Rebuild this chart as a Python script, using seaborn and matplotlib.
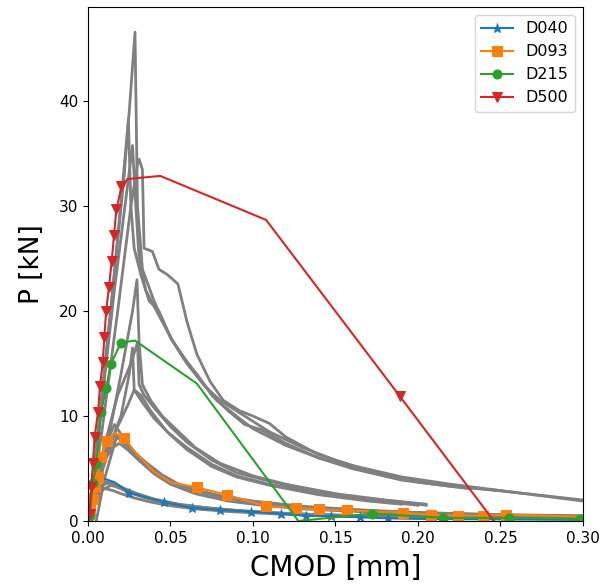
import pandas as pd
import matplotlib
matplotlib.use("Agg")
import matplotlib.pyplot as plt
import seaborn as sns

# Model curves (CMOD [mm], P [kN])
d040_x = [0, 0.001, 0.0026, 0.005, 0.0104, 0.016, 0.025, 0.046, 0.063, 0.080, 0.099, 0.117, 0.132, 0.1475, 0.165, 0.182, 0.20, 0.25, 0.30]
d040_p = [0, 1.0, 2.5, 3.6, 4.0, 3.7, 2.7, 1.8, 1.25, 1.05, 0.9, 0.7, 0.5, 0.45, 0.35, 0.25, 0.2, 0.15, 0.1]
d040_marks = [1, 2, 6, 7, 8, 9, 10, 11, 12, 13, 14, 15]

d093_x = [0, 0.0015, 0.003, 0.0045, 0.006, 0.0077, 0.0117, 0.016, 0.022, 0.030, 0.040, 0.050, 0.066, 0.084, 0.108,
          0.126, 0.140, 0.157, 0.174, 0.191, 0.208, 0.224, 0.2395, 0.2535, 0.30]
d093_p = [0, 1.0, 2.1, 3.2, 4.2, 6.1, 7.6, 8.4, 7.9, 6.3, 4.7, 3.7, 3.2, 2.5, 1.4,
          1.25, 1.1, 1.0, 0.9, 0.8, 0.6, 0.5, 0.5, 0.6, 0.4]
d093_marks = [1, 2, 3, 4, 5, 6, 8, 12, 13, 14, 15, 16, 17, 19, 20, 21, 22, 23]

d215_x = [0, 0.001, 0.003, 0.005, 0.008, 0.011, 0.014, 0.020, 0.0285, 0.066, 0.1275, 0.172, 0.215, 0.255, 0.298]
d215_p = [0, 0.5, 3.6, 5.4, 10.4, 12.7, 15.0, 17.0, 17.2, 13.1, 0.0, 0.7, 0.3, 0.3, 0.2]
d215_marks = [1, 2, 3, 4, 5, 6, 7, 11, 12, 13, 14]

d500_x = [0, 0.001, 0.002, 0.003, 0.004, 0.0061, 0.0073, 0.009, 0.0099, 0.011, 0.0127, 0.0144, 0.0158, 0.0172,
          0.0203, 0.024, 0.0438, 0.108, 0.189, 0.246]
d500_p = [0, 0.7, 3.2, 5.5, 8.0, 10.4, 12.9, 15.2, 17.5, 20.0, 22.3, 24.8, 27.3, 29.7,
          31.9, 32.6, 32.9, 28.7, 11.9, 0.0]
d500_marks = [1, 2, 3, 4, 5, 6, 7, 8, 9, 10, 11, 12, 13, 14, 18]

# Experimental curves (gray)
tests = {
    "D500_1": ([0, 0.005, 0.015, 0.025, 0.0285, 0.030, 0.033, 0.040, 0.050, 0.060, 0.070, 0.080, 0.090, 0.100, 0.110, 0.130, 0.150, 0.170, 0.200, 0.230, 0.260, 0.300],
               [0, 6, 22, 39, 46.6, 30, 24, 21, 17.5, 15, 13, 11.5, 10.5, 9.5, 8.5, 7, 5.8, 4.8, 3.8, 3.2, 2.7, 2.0]),
    "D500_2": ([0, 0.005, 0.015, 0.022, 0.0245, 0.026, 0.028, 0.032, 0.037, 0.043, 0.050, 0.058, 0.066, 0.075, 0.085, 0.095, 0.105, 0.120, 0.140, 0.160, 0.190, 0.220, 0.250],
               [0, 7, 22, 33, 38.3, 30, 26, 23.5, 21, 20, 17.5, 15.5, 14, 12, 10.5, 9.2, 8.7, 7.4, 6, 5, 3.9, 3.3, 2.9]),
    "D500_3": ([0, 0.006, 0.016, 0.024, 0.027, 0.029, 0.031, 0.035, 0.040, 0.045, 0.052, 0.060, 0.068, 0.078, 0.090, 0.100, 0.120, 0.140, 0.170, 0.200, 0.230],
               [0, 8, 22, 32, 35.8, 30, 25, 22, 20.5, 19, 17, 15.2, 13.5, 11.5, 10, 8.8, 7.2, 6, 4.7, 3.7, 3.1]),
    "D500_4": ([0, 0.008, 0.018, 0.026, 0.030, 0.031, 0.033, 0.034, 0.039, 0.043, 0.048, 0.0545, 0.060, 0.066, 0.074, 0.082, 0.092, 0.100, 0.110, 0.120, 0.140, 0.160, 0.190, 0.220, 0.250, 0.300],
               [0, 8, 20, 30, 34, 34.5, 33.5, 26, 25.7, 24, 23.5, 22.6, 19, 15.9, 13.3, 11.5, 10.5, 10, 9.3, 8, 6.3, 5.3, 4.2, 3.5, 2.9, 1.9]),
    "D215_1": ([0, 0.010, 0.020, 0.027, 0.0297, 0.031, 0.033, 0.038, 0.045, 0.055, 0.065, 0.080, 0.100, 0.120, 0.150, 0.180, 0.205],
               [0, 6, 14, 20, 23, 17, 13, 11.5, 10, 8.5, 7, 5.5, 4.3, 3.5, 2.6, 2.0, 1.6]),
    "D215_2": ([0, 0.008, 0.018, 0.026, 0.030, 0.031, 0.034, 0.040, 0.050, 0.060, 0.075, 0.090, 0.110, 0.130, 0.160, 0.190, 0.205],
               [0, 6, 12, 15, 17, 13, 12, 10.8, 9, 7.5, 5.8, 4.6, 3.8, 3.1, 2.3, 1.8, 1.5]),
    "D215_3": ([0, 0.010, 0.020, 0.025, 0.027, 0.028, 0.032, 0.038, 0.048, 0.060, 0.075, 0.090, 0.110, 0.140, 0.170, 0.200],
               [0, 6, 10, 14, 16.5, 12.5, 12, 10.5, 8.5, 7, 5.4, 4.3, 3.5, 2.7, 2.0, 1.5]),
    "D215_4": ([0, 0.008, 0.018, 0.024, 0.028, 0.033, 0.040, 0.050, 0.060, 0.075, 0.090, 0.110, 0.140, 0.170, 0.190],
               [0, 5, 9, 11, 12.5, 11.3, 9.8, 8.2, 6.8, 5.2, 4.2, 3.4, 2.5, 1.9, 1.6]),
    "D093_1": ([0, 0.004, 0.010, 0.016, 0.020, 0.025, 0.030, 0.040, 0.050, 0.060, 0.080, 0.100, 0.130, 0.160, 0.200, 0.250, 0.300],
               [0, 3, 7, 9.2, 8.3, 7.2, 6.2, 4.8, 3.8, 3.2, 2.4, 1.9, 1.4, 1.1, 0.8, 0.6, 0.5]),
    "D093_2": ([0, 0.005, 0.012, 0.018, 0.022, 0.028, 0.035, 0.045, 0.055, 0.070, 0.090, 0.110, 0.140, 0.180, 0.220, 0.260, 0.300],
               [0, 2.8, 6.5, 8.0, 7.5, 6.6, 5.6, 4.4, 3.5, 2.7, 2.1, 1.6, 1.2, 0.9, 0.7, 0.55, 0.45]),
    "D093_3": ([0, 0.004, 0.010, 0.015, 0.019, 0.024, 0.030, 0.040, 0.050, 0.065, 0.085, 0.105, 0.130, 0.170, 0.210, 0.250, 0.280],
               [0, 2.5, 5.8, 7.0, 7.4, 6.8, 5.9, 4.5, 3.5, 2.6, 1.9, 1.5, 1.15, 0.85, 0.65, 0.5, 0.4]),
    "D093_4": ([0.005, 0.010, 0.0176, 0.020, 0.025, 0.032, 0.040, 0.050, 0.062, 0.080, 0.100, 0.125, 0.150, 0.190, 0.230, 0.270],
               [0, 4, 8.2, 7.6, 7.0, 5.8, 4.7, 3.8, 3.0, 2.3, 1.8, 1.4, 1.1, 0.8, 0.6, 0.45]),
    "D040_1": ([0, 0.003, 0.008, 0.012, 0.016, 0.022, 0.030, 0.040, 0.055, 0.070, 0.090, 0.110, 0.140, 0.180, 0.220, 0.270, 0.300],
               [0, 1.8, 3.3, 3.8, 3.6, 3.1, 2.6, 2.1, 1.6, 1.3, 1.0, 0.8, 0.6, 0.45, 0.35, 0.3, 0.25]),
    "D040_2": ([0, 0.004, 0.009, 0.014, 0.018, 0.025, 0.035, 0.045, 0.060, 0.080, 0.100, 0.130, 0.160, 0.200, 0.250, 0.300],
               [0, 1.6, 3.0, 3.4, 3.2, 2.7, 2.2, 1.8, 1.4, 1.1, 0.85, 0.65, 0.5, 0.4, 0.3, 0.25]),
    "D040_3": ([0, 0.003, 0.007, 0.010, 0.015, 0.020, 0.028, 0.038, 0.050, 0.065, 0.085, 0.110, 0.140, 0.180, 0.220, 0.260],
               [0, 1.5, 2.7, 3.1, 2.9, 2.6, 2.2, 1.8, 1.45, 1.15, 0.9, 0.7, 0.5, 0.4, 0.3, 0.25]),
    "D040_4": ([0, 0.003, 0.008, 0.012, 0.017, 0.024, 0.032, 0.042, 0.058, 0.075, 0.095, 0.120, 0.150, 0.190, 0.250],
               [0, 1.9, 3.4, 3.6, 3.4, 2.9, 2.4, 1.9, 1.5, 1.2, 0.95, 0.7, 0.55, 0.4, 0.3]),
}

fig, ax = plt.subplots(figsize=(6.11, 5.88), dpi=100)
fig.subplots_adjust(left=0.144, right=0.954, bottom=0.114, top=0.988)

for name, (tx, tp) in tests.items():
    df = pd.DataFrame({"CMOD": tx, "P": tp})
    sns.lineplot(data=df, x="CMOD", y="P", ax=ax, color="gray", lw=2,
                 sort=False, estimator=None)

models = [
    ("D040", d040_x, d040_p, d040_marks, "*", "tab:blue"),
    ("D093", d093_x, d093_p, d093_marks, "s", "tab:orange"),
    ("D215", d215_x, d215_p, d215_marks, "o", "tab:green"),
    ("D500", d500_x, d500_p, d500_marks, "v", "tab:red"),
]
for label, mx, mp, marks, mk, col in models:
    df = pd.DataFrame({"CMOD": mx, "P": mp})
    sns.lineplot(data=df, x="CMOD", y="P", ax=ax, color=col, lw=1.5,
                 marker=mk, markersize=6.5, markevery=marks, markeredgecolor=col,
                 sort=False, estimator=None, label=label)

ax.legend(loc="upper right", fontsize=11.5)
ax.set_xlim(0, 0.30)
ax.set_ylim(0, 49)
ax.set_xticks([0, 0.05, 0.10, 0.15, 0.20, 0.25, 0.30])
ax.set_xticklabels(["0.00", "0.05", "0.10", "0.15", "0.20", "0.25", "0.30"])
ax.set_yticks([0, 10, 20, 30, 40])
ax.tick_params(labelsize=11)
ax.set_xlabel("CMOD [mm]", fontsize=20, labelpad=6)
ax.set_ylabel("P [kN]", fontsize=19, labelpad=10)

fig.savefig("out.png", dpi=100)
